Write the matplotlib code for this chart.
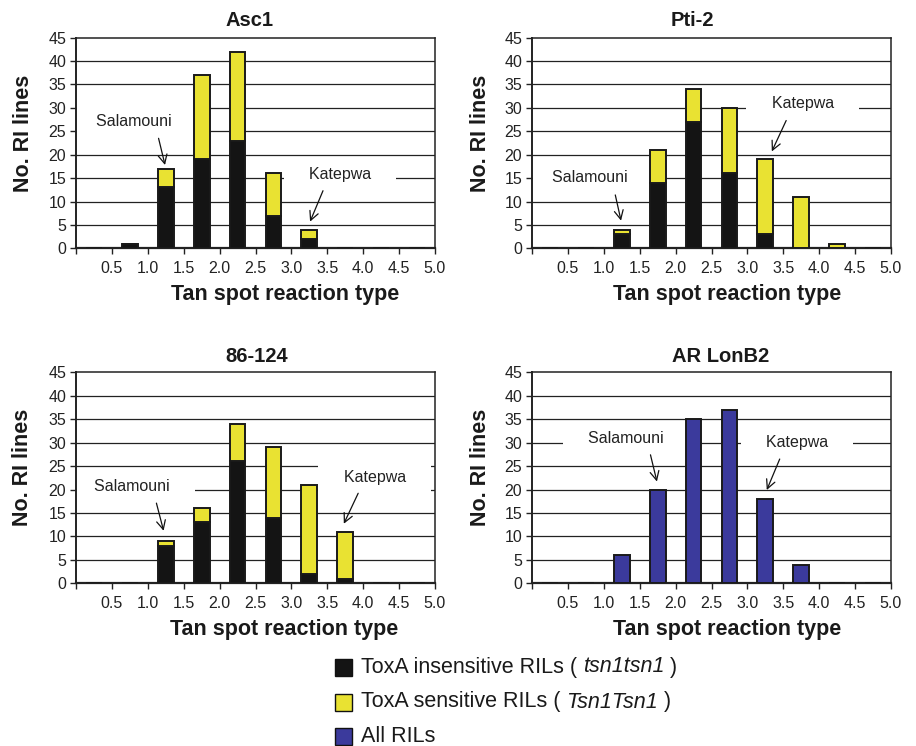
import numpy as np
import matplotlib
matplotlib.use("Agg")
import matplotlib.pyplot as plt
from matplotlib.patches import Rectangle

plt.rcParams["font.family"] = ["Liberation Sans", "DejaVu Sans"]

# --------------------------------------------------
# DATA (number of RI lines per reaction-type bin)
# --------------------------------------------------
BIN_CENTERS = [0.25, 0.75, 1.25, 1.75, 2.25, 2.75, 3.25, 3.75, 4.25, 4.75]
TICKS = [0.0, 0.5, 1.0, 1.5, 2.0, 2.5, 3.0, 3.5, 4.0, 4.5, 5.0]
TICK_LABELS = ["", "0.5", "1.0", "1.5", "2.0", "2.5", "3.0", "3.5", "4.0", "4.5", "5.0"]

asc1_insens = [0, 1, 13, 19, 23, 7, 2, 0, 0, 0]
asc1_sens = [0, 0, 4, 18, 19, 9, 2, 0, 0, 0]

pti2_insens = [0, 0, 3, 14, 27, 16, 3, 0, 0, 0]
pti2_sens = [0, 0, 1, 7, 7, 14, 16, 11, 1, 0]

i86_insens = [0, 0, 8, 13, 26, 14, 2, 1, 0, 0]
i86_sens = [0, 0, 1, 3, 8, 15, 19, 10, 0, 0]

arlon_all = [0, 0, 6, 20, 35, 37, 18, 4, 0, 0]

# annotation: (text, text x, text y, arrow start x, y, arrow end x, y)
asc1_notes = [("Salamouni", 0.80, 27.1, 1.15, 23.5, 1.24, 17.8),
              ("Katepwa", 3.68, 15.7, 3.44, 12.3, 3.26, 5.7)]
pti2_notes = [("Salamouni", 0.81, 15.2, 1.16, 11.4, 1.24, 5.9),
              ("Katepwa", 3.77, 31.0, 3.54, 27.3, 3.34, 20.7)]
i86_notes = [("Salamouni", 0.78, 20.6, 1.12, 17.1, 1.22, 11.2),
             ("Katepwa", 4.16, 22.6, 3.93, 19.2, 3.73, 12.7)]
arlon_notes = [("Salamouni", 1.31, 30.9, 1.65, 27.4, 1.74, 21.7),
               ("Katepwa", 3.69, 30.0, 3.45, 26.5, 3.27, 19.9)]

BLACK = "#141414"
YELLOW = "#E9E232"
BLUE = "#3B3A9C"
EDGE = "#1a1a1a"

W, H = 916, 746
BAR_W = 0.22


def fx(px):
    return px / W


def fy(py):
    return 1 - py / H


def make_axes(fig, left, top, right, bottom):
    return fig.add_axes([fx(left), fy(bottom), fx(right - left), (bottom - top) / H])


def style_axes(ax):
    ax.set_xlim(0, 5)
    ax.set_ylim(0, 45)
    ax.set_yticks(np.arange(0, 46, 5))
    ax.set_xticks(TICKS)
    ax.set_xticklabels(TICK_LABELS)
    ax.tick_params(axis="both", labelsize=11.5, colors="#222222", length=4, width=1,
                   direction="out")
    ax.tick_params(axis="x", pad=5)
    ax.tick_params(axis="y", pad=3)
    for y in range(5, 45, 5):
        ax.axhline(y, color="#222222", lw=0.9, zorder=0)
    for s in ax.spines.values():
        s.set_color("#222222")
        s.set_linewidth(1.1)
    ax.spines["bottom"].set_linewidth(1.6)
    ax.spines["left"].set_linewidth(1.4)


def add_notes(ax, notes):
    for label, tx, ty, ax0, ay0, ax1, ay1 in notes:
        # white box hides the gridlines behind the label, but stays under the bars
        ax.text(tx, ty, "    " + label + "    ", ha="center", va="center",
                fontsize=11.5, color="#222222", zorder=1, clip_on=True,
                bbox=dict(boxstyle="square,pad=0.45", fc="white", ec="none"))
        ax.annotate("", xy=(ax1, ay1), xytext=(ax0, ay0), zorder=5,
                    arrowprops=dict(arrowstyle="->", lw=0.9, color="#111111",
                                    mutation_scale=16, shrinkA=0, shrinkB=0))


def stacked(ax, insens, sens):
    ax.bar(BIN_CENTERS, insens, BAR_W, color=BLACK, edgecolor=EDGE, lw=1.4, zorder=3)
    ax.bar(BIN_CENTERS, sens, BAR_W, bottom=insens, color=YELLOW, edgecolor=EDGE,
           lw=1.4, zorder=3)


fig = plt.figure(figsize=(W / 100, H / 100), dpi=100)

panels = [
    ("Asc1", (76, 37.7, 435, 248.3), (249, 20), (285, 295), (24, 133)),
    ("Pti-2", (532, 37.7, 891, 248.3), (692, 20), (727, 295), (480, 133)),
    ("86-124", (76, 372.3, 435, 583.3), (257, 357), (284, 629), (23, 467)),
    ("AR LonB2", (532, 372.3, 891, 583.3), (721, 357), (727, 629), (480, 467)),
]

axes = []
for title, box, tpos, xpos, ypos in panels:
    ax = make_axes(fig, *box)
    style_axes(ax)
    fig.text(fx(tpos[0]), fy(tpos[1]), title, ha="center", va="center",
             fontsize=14.5, fontweight="bold", color="#1a1a1a")
    fig.text(fx(xpos[0]), fy(xpos[1]), "Tan spot reaction type", ha="center",
             va="center", fontsize=15.5, fontweight="bold", color="#1a1a1a")
    fig.text(fx(ypos[0]), fy(ypos[1]), "No. RI lines", ha="center", va="center",
             rotation=90, fontsize=15.5, fontweight="bold", color="#1a1a1a")
    axes.append(ax)

stacked(axes[0], asc1_insens, asc1_sens)
add_notes(axes[0], asc1_notes)

stacked(axes[1], pti2_insens, pti2_sens)
add_notes(axes[1], pti2_notes)

stacked(axes[2], i86_insens, i86_sens)
add_notes(axes[2], i86_notes)

axes[3].bar(BIN_CENTERS, arlon_all, BAR_W, color=BLUE, edgecolor=EDGE, lw=1.4, zorder=3)
add_notes(axes[3], arlon_notes)

# --------------------------------------------------
# LEGEND (drawn by hand so the gene names can be italic)
# --------------------------------------------------
legend_items = [
    (BLACK, ["ToxA insensitive RILs ( ", "tsn1tsn1", " )"], 667),
    (YELLOW, ["ToxA sensitive RILs ( ", "Tsn1Tsn1", " )"], 702),
    (BLUE, ["All RILs"], 736),
]
renderer = fig.canvas.get_renderer()
for color, parts, yc in legend_items:
    fig.add_artist(Rectangle((fx(335), fy(yc + 8.5)), fx(17), 17 / H,
                             transform=fig.transFigure, fc=color, ec="#111111", lw=1.0))
    x = 361
    for k, part in enumerate(parts):
        t = fig.text(fx(x), fy(yc), part, ha="left", va="center", fontsize=15.5,
                     color="#1a1a1a", style="italic" if k == 1 else "normal")
        x += t.get_window_extent(renderer).width

fig.savefig("out.png", dpi=100)
plt.close(fig)
